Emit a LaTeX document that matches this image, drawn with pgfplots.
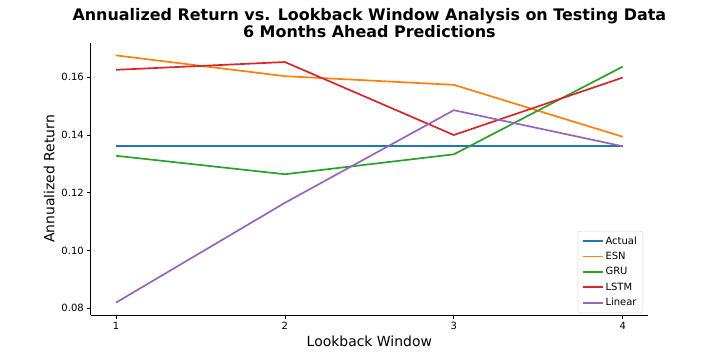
\documentclass[border=0pt]{standalone}
\usepackage{fontspec}
\setmainfont{DejaVu Sans}
\usepackage{pgfplots}
\pgfplotsset{compat=1.18}
\definecolor{c0}{HTML}{1F77B4}
\definecolor{c1}{HTML}{FF7F0E}
\definecolor{c2}{HTML}{2CA02C}
\definecolor{c3}{HTML}{D62728}
\definecolor{c4}{HTML}{9467BD}
\begin{document}
\begin{tikzpicture}
\useasboundingbox (-90.7bp,-45bp) rectangle (629.3bp,315bp);
\begin{axis}[
    scale only axis,
    width=557.3bp,
    height=272bp,
    xmin=0.85, xmax=4.15,
    ymin=0.0776, ymax=0.1719,
    xtick={1,2,3,4},
    ytick={0.08,0.10,0.12,0.14,0.16},
    yticklabel style={/pgf/number format/.cd,fixed,fixed zerofill,precision=2},
    /pgf/number format/assume math mode=true,
    tick label style={font=\fontsize{10}{12}\selectfont},
    axis x line*=bottom,
    axis y line*=left,
    axis line style={line width=0.8bp,-},
    tick align=outside,
    major tick length=3.5bp,
    tick style={line width=0.8bp,black},
    xlabel={Lookback Window},
    ylabel={Annualized Return},
    label style={font=\fontsize{14}{16}\selectfont},
    title={Annualized Return vs. Lookback Window Analysis on Testing Data\\6 Months Ahead Predictions},
    title style={font=\bfseries\fontsize{16}{17}\selectfont, align=center, yshift=-4bp},
    legend style={at={(1,0)}, anchor=south east, xshift=-5bp, yshift=2bp,
        font=\fontsize{10}{12}\selectfont, draw=gray!30, rounded corners=2bp,
        inner xsep=4bp, inner ysep=3.5bp, row sep=2.5bp},
    legend cell align=left,
    legend image code/.code={\draw[#1] (0bp,0bp) -- (20bp,0bp);},
]
\addplot[c0, line width=1.7bp] coordinates {(1,0.1361) (2,0.1361) (3,0.1361) (4,0.1361)};
\addplot[c1, line width=1.7bp] coordinates {(1,0.1676) (2,0.1604) (3,0.1574) (4,0.1394)};
\addplot[c2, line width=1.7bp] coordinates {(1,0.1328) (2,0.1264) (3,0.1333) (4,0.1637)};
\addplot[c3, line width=1.7bp] coordinates {(1,0.1626) (2,0.1653) (3,0.1400) (4,0.1599)};
\addplot[c4, line width=1.7bp] coordinates {(1,0.0819) (2,0.1165) (3,0.1486) (4,0.1361)};
\legend{Actual,ESN,GRU,LSTM,Linear}
\end{axis}
\end{tikzpicture}
\end{document}
